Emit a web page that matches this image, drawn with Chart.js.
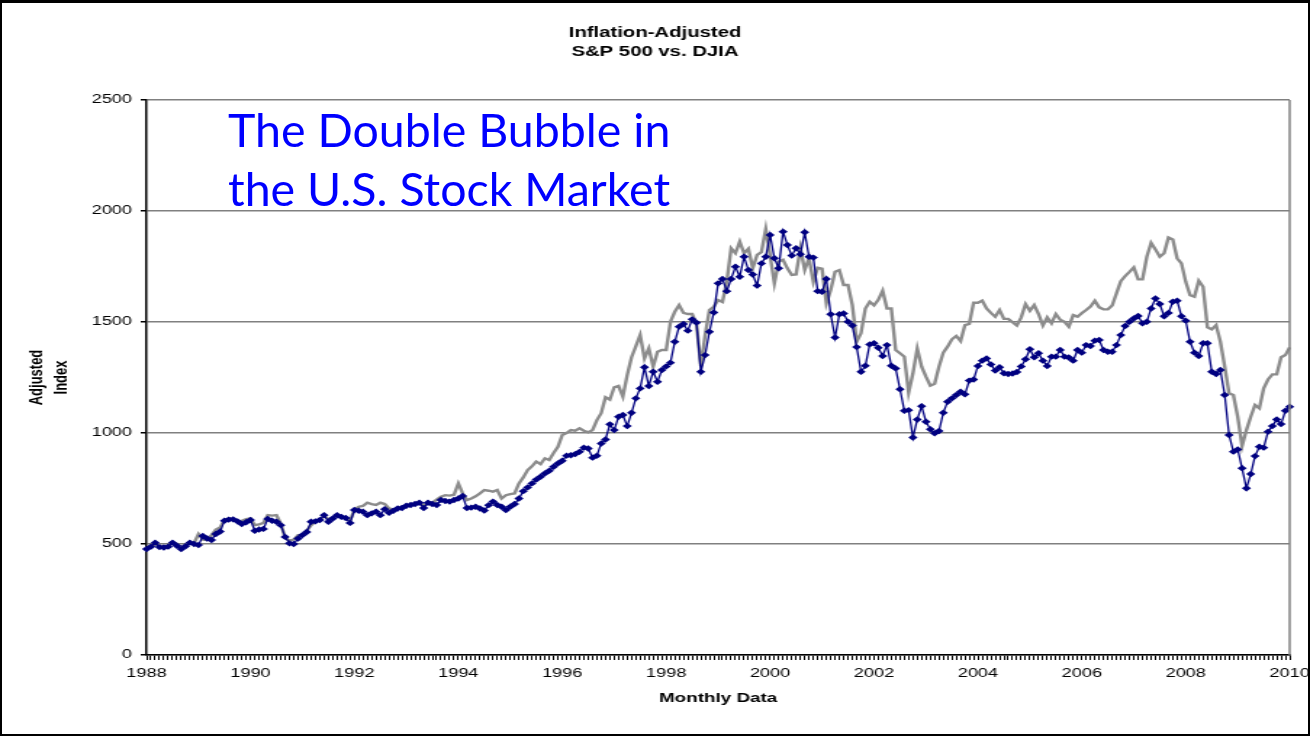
<!DOCTYPE html>
<html>
<head>
<meta charset="utf-8">
<script src="https://cdn.jsdelivr.net/npm/chart.js@4.4.1/dist/chart.umd.min.js"></script>
<style>
  html, body { margin: 0; padding: 0; background: #fff; }
  #wrap { position: relative; width: 1310px; height: 736px; overflow: hidden; }
  #stretch { position: absolute; left: 0; top: 0; transform: scaleX(1.4507); transform-origin: 0 0; }
  #note { position: absolute; left: 228px; top: 100px; font-family: Lato, "Open Sans", sans-serif;
          font-size: 46.5px; line-height: 59px; color: #0000ff; white-space: nowrap; }
  #frame { position: absolute; left: 0; top: 0; width: 1310px; height: 736px; box-sizing: border-box;
           border: 2px solid #000; border-top-width: 3px; pointer-events: none; }
</style>
</head>
<body>
<div id="wrap">
  <div id="stretch"><canvas id="chart" width="903" height="736"></canvas></div>
  <div id="note">The Double Bubble in<br>the U.S. Stock Market</div>
  <div id="frame"></div>
</div>
<script>
// monthly categories Jan 1988 .. Jan 2010
const months = []
for (let y = 1988; y <= 2010; y++) {
  for (let m = 1; m <= 12; m++) {
    if (y === 2010 && m > 1) break
    months.push(y + "-" + String(m).padStart(2, "0"))
  }
}
const tickYears = ["1988", "1990", "1992", "1994", "1996", "1998", "2000", "2002", "2004", "2006", "2008", "2010"]

// inflation-adjusted S&P 500 (navy, diamonds)
const sp500 = [
  477, 488, 506, 486, 484, 488, 506, 492, 477, 490, 506, 500,
  495, 536, 525, 518, 545, 556, 605, 610, 611, 602, 590, 598,
  608, 560, 565, 568, 613, 605, 600, 585, 532, 503, 500, 525,
  540, 554, 600, 602, 608, 630, 600, 615, 630, 622, 617, 595,
  653, 650, 645, 630, 638, 645, 630, 657, 641, 650, 660, 662,
  672, 676, 680, 686, 662, 686, 680, 676, 698, 694, 691, 698,
  705, 716, 662, 664, 668, 660, 651, 675, 691, 676, 668, 653,
  668, 680, 705, 738, 755, 773, 790, 803, 818, 830, 848, 863,
  875, 898, 900, 905, 915, 934, 930, 889, 898, 953, 971, 1039,
  1013, 1073, 1081, 1031, 1091, 1156, 1201, 1296, 1212, 1276, 1231, 1284,
  1300, 1317, 1411, 1479, 1491, 1461, 1512, 1497, 1276, 1351, 1456, 1543,
  1674, 1694, 1639, 1694, 1749, 1704, 1794, 1734, 1714, 1664, 1764, 1794,
  1892, 1787, 1742, 1907, 1847, 1799, 1832, 1805, 1904, 1794, 1790, 1639,
  1636, 1694, 1535, 1430, 1535, 1538, 1501, 1484, 1387, 1276, 1303, 1399,
  1404, 1384, 1347, 1396, 1303, 1291, 1197, 1100, 1103, 980, 1061, 1121,
  1051, 1017, 999, 1009, 1091, 1141, 1156, 1171, 1186, 1174, 1236, 1241,
  1302, 1326, 1336, 1309, 1281, 1296, 1269, 1266, 1268, 1275, 1300, 1332,
  1377, 1341, 1359, 1326, 1302, 1344, 1344, 1374, 1344, 1340, 1326, 1374,
  1362, 1396, 1392, 1416, 1419, 1374, 1366, 1366, 1396, 1441, 1482, 1501,
  1516, 1527, 1494, 1501, 1561, 1606, 1581, 1526, 1541, 1591, 1596, 1526,
  1506, 1411, 1362, 1347, 1404, 1404, 1276, 1266, 1284, 1171, 991, 916,
  926, 841, 751, 815, 896, 938, 934, 1006, 1031, 1061, 1040, 1100,
  1118
]

// inflation-adjusted DJIA, rescaled (gray line)
const djia = [
  480, 486, 500, 490, 488, 492, 508, 500, 484, 495, 510, 505,
  545, 520, 518, 540, 565, 575, 610, 615, 612, 598, 605, 612,
  615, 585, 588, 595, 630, 628, 630, 592, 528, 515, 520, 540,
  540, 560, 585, 600, 610, 625, 612, 618, 630, 625, 618, 605,
  655, 668, 672, 686, 680, 676, 686, 680, 660, 655, 662, 668,
  672, 675, 682, 688, 672, 690, 686, 700, 713, 720, 718, 722,
  773, 728, 698, 705, 715, 728, 743, 740, 736, 743, 705, 720,
  725, 728, 773, 800, 833, 850, 871, 860, 886, 878, 910, 938,
  991, 1000, 1013, 1010, 1021, 1010, 1003, 1013, 1058, 1089, 1161, 1150,
  1206, 1212, 1164, 1261, 1341, 1390, 1441, 1336, 1381, 1299, 1366, 1374,
  1374, 1501, 1546, 1576, 1541, 1536, 1536, 1491, 1302, 1440, 1554, 1569,
  1599, 1590, 1681, 1832, 1810, 1862, 1810, 1830, 1742, 1802, 1815, 1919,
  1800, 1674, 1772, 1780, 1742, 1712, 1714, 1832, 1734, 1787, 1681, 1744,
  1740, 1584, 1644, 1726, 1734, 1667, 1667, 1576, 1411, 1449, 1561, 1591,
  1575, 1600, 1641, 1561, 1561, 1374, 1359, 1344, 1181, 1269, 1381, 1299,
  1254, 1213, 1222, 1299, 1362, 1389, 1422, 1437, 1414, 1486, 1491, 1587,
  1587, 1596, 1561, 1541, 1524, 1554, 1514, 1514, 1499, 1484, 1521, 1581,
  1551, 1576, 1536, 1484, 1521, 1494, 1536, 1510, 1501, 1479, 1531, 1524,
  1540, 1554, 1570, 1596, 1566, 1557, 1557, 1574, 1629, 1684, 1707, 1726,
  1746, 1692, 1692, 1794, 1857, 1827, 1794, 1810, 1881, 1872, 1787, 1764,
  1681, 1621, 1614, 1686, 1659, 1476, 1467, 1486, 1411, 1299, 1179, 1171,
  1073, 941, 1013, 1073, 1126, 1111, 1201, 1241, 1264, 1264, 1341, 1351,
  1386
]

const FONT = "'Liberation Sans', Arial, sans-serif"

const decorations = {
  id: "decorations",
  afterDatasetsDraw(chart) {
    const { ctx, chartArea } = chart
    ctx.save()
    ctx.strokeStyle = "#808080"
    ctx.lineWidth = 1.5
    ctx.beginPath()
    ctx.moveTo(chartArea.right, chartArea.top)
    ctx.lineTo(chartArea.right, chartArea.bottom)
    ctx.stroke()
    ctx.fillStyle = "#000"
    ctx.font = "bold 14px " + FONT
    ctx.textAlign = "center"
    ctx.textBaseline = "middle"
    ctx.fillText("Inflation-Adjusted", chart.width / 2, 33)
    ctx.fillText("S&P 500 vs. DJIA", chart.width / 2, 52)
    ctx.restore()
  },
}

new Chart(document.getElementById("chart"), {
  type: "line",
  data: {
    labels: months,
    datasets: [
      {
        label: "S&P 500",
        data: sp500,
        borderColor: "#000080",
        backgroundColor: "#000080",
        borderWidth: 1.3,
        pointStyle: "rectRot",
        pointRadius: 3.2,
        pointBorderWidth: 0,
        tension: 0,
      },
      {
        label: "DJIA",
        data: djia,
        borderColor: "#8c8c8c",
        borderWidth: 2.4,
        pointRadius: 0,
        tension: 0,
      },
    ],
  },
  options: {
    responsive: false,
    animation: false,
    devicePixelRatio: 1,
    layout: { padding: { left: 0, right: 14, top: 100, bottom: 0 } },
    plugins: {
      legend: { display: false },
      title: { display: false },
      tooltip: { enabled: false },
    },
    scales: {
      x: {
        type: "category",
        offset: false,
        afterFit: (s) => {
          s.height = 81
          s.paddingLeft = 0
          s.paddingRight = 0
        },
        grid: { drawOnChartArea: false, drawTicks: true, tickLength: 5, tickColor: "#000", lineWidth: 1 },
        border: { color: "#000", width: 1.5 },
        ticks: {
          autoSkip: false,
          maxRotation: 0,
          padding: 6,
          color: "#000",
          font: { family: FONT, size: 12.5 },
          callback: (v, i) => (i % 24 === 0 ? tickYears[i / 24] : ""),
        },
        title: {
          display: true,
          text: "Monthly Data",
          color: "#000",
          font: { family: FONT, size: 13, weight: "bold" },
          padding: { top: 0, bottom: 30 },
        },
      },
      y: {
        min: 0,
        max: 2500,
        afterFit: (s) => {
          s.width = 101
          s.paddingTop = 0
          s.paddingBottom = 0
        },
        grid: { color: "#808080", lineWidth: 1.5, tickLength: 4, tickColor: "#000" },
        border: { color: "#000", width: 1.5 },
        ticks: {
          stepSize: 500,
          padding: 6,
          color: "#000",
          font: { family: FONT, size: 12.5 },
          callback: (v) => String(v),
        },
        title: {
          display: true,
          text: ["Adjusted", "Index"],
          color: "#000",
          font: { family: FONT, size: 13, weight: "bold", lineHeight: 1.3 },
          padding: { top: 17, bottom: 0 },
        },
      },
    },
  },
  plugins: [decorations],
})
</script>
</body>
</html>
